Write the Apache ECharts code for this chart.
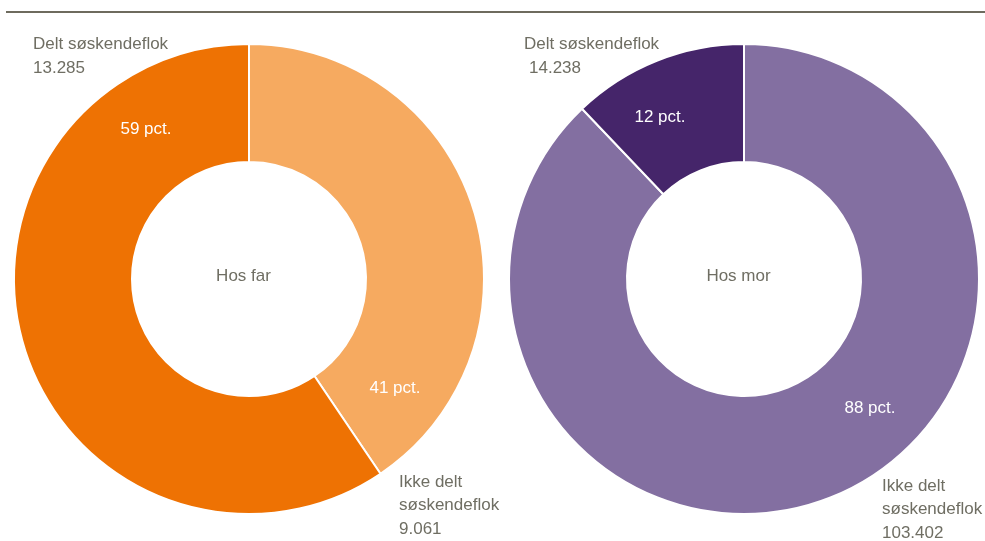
<!DOCTYPE html>
<html><head><meta charset="utf-8">
<script src="https://cdn.jsdelivr.net/npm/echarts@6/dist/echarts.min.js"></script>
<style>html,body{margin:0;padding:0;background:#fff}#c{width:985px;height:541px}</style>
</head><body><div id="c"></div>
<script>
const categories = ['Ikke delt søskendeflok', 'Delt søskendeflok'];
const farValues = [9061, 13285];
const morValues = [103402, 14238];
const farPct = ['41 pct.', '59 pct.'];
const morPct = ['88 pct.', '12 pct.'];
const centerLabels = ['Hos far', 'Hos mor'];

const FONT = "'Liberation Sans',Arial,sans-serif";
const TXT = '#6f6e63';
const fmt = v => v.toLocaleString('de-DE');

const chart = echarts.init(document.getElementById('c'));
function pie(center, values, colors) {
  return {
    type: 'pie', center: center, radius: [117, 235], startAngle: 90, clockwise: true,
    silent: true, label: {show: false}, labelLine: {show: false},
    itemStyle: {borderColor: '#fff', borderWidth: 2},
    data: values.map((v, i) => ({name: categories[i], value: v, itemStyle: {color: colors[i]}}))
  };
}
function t(x, y, text, opts) {
  return {type: 'text', x: x, y: y, z: 100,
    style: Object.assign({text: text, fill: TXT, font: '17px ' + FONT, textVerticalAlign: 'middle'}, opts || {})};
}
const lh = 24;
chart.setOption({
  animation: false,
  series: [
    pie([249, 279], farValues, ['#f6aa60', '#ee7203']),
    pie([744, 279], morValues, ['#836fa1', '#45256a'])
  ],
  graphic: [
    {type: 'line', z: 100, shape: {x1: 6, y1: 12, x2: 985, y2: 12}, style: {stroke: '#6e6b5e', lineWidth: 2}},
    t(33, 44, categories[1]), t(33, 44 + lh, fmt(farValues[1])),
    t(524, 44, categories[1]), t(529, 44 + lh, fmt(morValues[1])),
    t(399, 482, 'Ikke delt'), t(399, 482 + 23.5, 'søskendeflok'), t(399, 482 + 47, fmt(farValues[0])),
    t(882, 486, 'Ikke delt'), t(882, 486 + 23.5, 'søskendeflok'), t(882, 486 + 47, fmt(morValues[0])),
    t(146, 129, farPct[1], {fill: '#fff', textAlign: 'center'}),
    t(395, 388, farPct[0], {fill: '#fff', textAlign: 'center'}),
    t(660, 117, morPct[1], {fill: '#fff', textAlign: 'center'}),
    t(870, 408, morPct[0], {fill: '#fff', textAlign: 'center'}),
    t(243.5, 276, centerLabels[0], {textAlign: 'center'}),
    t(738.5, 276, centerLabels[1], {textAlign: 'center'})
  ]
});
</script></body></html>
